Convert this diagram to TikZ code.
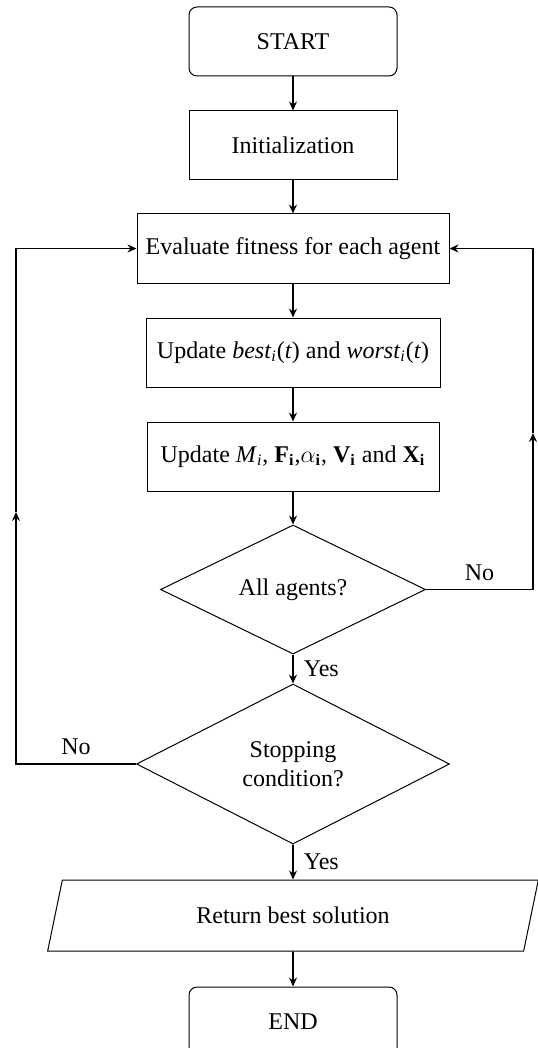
\documentclass[tikz,border=0pt,12pt]{standalone}
\usepackage{fontspec}
\setmainfont{Liberation Serif}
\usetikzlibrary{shapes.geometric, arrows.meta, positioning}

\begin{document}
\begin{tikzpicture}[x=0.5pt, y=-0.5pt,
          term/.style={rectangle, draw, line width=0.5pt, rounded corners=4pt,
                       minimum width=104pt, minimum height=34.5pt, inner sep=0pt},
          proc/.style={rectangle, draw, line width=0.5pt,
                       minimum height=34.5pt, inner sep=0pt},
          dec/.style={diamond, draw, line width=0.5pt, aspect=2,
                      inner sep=0pt, align=center},
          io/.style={trapezium, trapezium left angle=70, trapezium right angle=110,
                     trapezium stretches=true, draw, line width=0.5pt,
                     minimum width=245.5pt, minimum height=35.5pt, inner sep=0pt},
          arr/.style={-{Stealth[length=4.5pt, width=4pt, inset=1.5pt]}, line width=0.85pt}
        ]
        \useasboundingbox (0,0) rectangle (537,1048);
        % Main column
        \node[term] (start) at (293, 41.5) {START};
        \node[proc, minimum width=104pt] (init) at (293, 145.5) {Initialization};
        \node[proc, minimum width=156pt] (eval) at (293, 248.5)
              {Evaluate fitness for each agent};
        \node[proc, minimum width=147pt] (best) at (293, 352.5)
              {Update \textit{best}\textsubscript{\textit{i}}(\textit{t}) and
               \textit{worst}\textsubscript{\textit{i}}(\textit{t})};
        \node[proc, minimum width=146pt] (updm) at (293, 456.5)
              {Update \textit{M}\textsubscript{\textit{i}},
               \textbf{F}\textsubscript{\textbf{i}},$\alpha$\textsubscript{\textbf{i}},
               \textbf{V}\textsubscript{\textbf{i}} and \textbf{X}\textsubscript{\textbf{i}}};
        % Decisions
        \node[dec, minimum width=132.5pt, minimum height=64.5pt] (all) at (293, 589.5)
              {All agents?};
        \node[dec, minimum width=156.5pt, minimum height=80pt] (stop) at (293, 764)
              {Stopping\\condition?};
        % Output and end
        \node[io] (ret) at (293, 915.5) {Return best solution};
        \node[term] (end) at (293, 1021.5) {END};

        % Straight flow
        \draw[arr] (start) -- (init);
        \draw[arr] (init) -- (eval);
        \draw[arr] (eval) -- (best);
        \draw[arr] (best) -- (updm);
        \draw[arr] (updm) -- (all);
        \draw[arr] (all) -- node[right, xshift=1pt] {Yes} (stop);
        \draw[arr] (stop) -- node[right, xshift=1pt] {Yes} (ret);
        \draw[arr] (ret) -- (end);

        % Loop back
        \coordinate (rm) at (533, 433);
        \coordinate (lm) at (16, 512);
        \draw[arr] (all.east) -| node[pos=0.25, above] {No} (rm);
        \draw[arr] (rm) |- (eval.east);
        \draw[arr] (stop.west) -| node[pos=0.25, above] {No} (lm);
        \draw[arr] (lm) |- (eval.west);
      \end{tikzpicture}
\end{document}
